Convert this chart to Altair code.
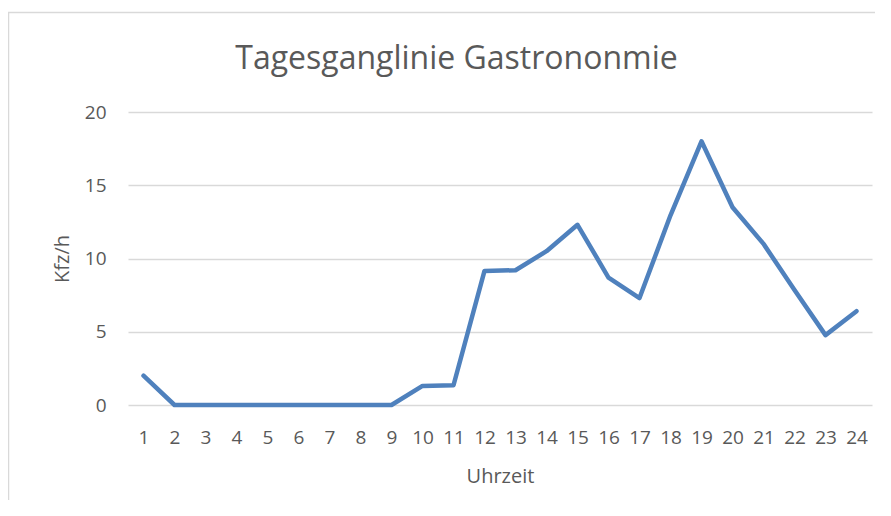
import altair as alt
import pandas as pd

hours = [str(h) for h in range(1, 25)]
kfz = [2.0, 0, 0, 0, 0, 0, 0, 0, 0, 1.3, 1.35, 9.15, 9.2, 10.5, 12.3, 8.7,
       7.3, 12.95, 18.0, 13.5, 11.0, 7.85, 4.77, 6.4]

title_text = "Tagesganglinie Gastrononmie"
x_title = "Uhrzeit"
y_title = "Kfz/h"

df = pd.DataFrame({"Uhrzeit": hours, "Kfz": kfz})

FONT = "Open Sans"
GREY = "#595959"

line = alt.Chart(df).mark_line(color="#4F81BD", strokeWidth=4.5, strokeJoin="round", strokeCap="round").encode(
    x=alt.X("Uhrzeit:O", sort=hours, title=x_title,
            scale=alt.Scale(type="point", padding=0.5),
            axis=alt.Axis(labelAngle=0, labelFont=FONT, labelFontSize=19, labelColor=GREY,
                          titleFont=FONT, titleFontSize=20, titleColor=GREY, titleFontWeight="normal",
                          ticks=False, domain=False, labelPadding=23, titlePadding=19, grid=False)),
    y=alt.Y("Kfz:Q", title=y_title,
            scale=alt.Scale(domain=[0, 20]),
            axis=alt.Axis(values=[0, 5, 10, 15, 20], labelFont=FONT, labelFontSize=19, labelColor=GREY,
                          titleFont=FONT, titleFontSize=20, titleColor=GREY, titleFontWeight="normal",
                          ticks=False, domain=False, labelPadding=22, titlePadding=12,
                          gridColor="#D9D9D9", gridWidth=1.5)),
)

border = alt.Chart(pd.DataFrame({"a": [0]})).mark_rect(
    fill=None, stroke="#D9D9D9", strokeWidth=1.5).encode(
    x=alt.value(-119.5), y=alt.value(-99.5), x2=alt.value(900), y2=alt.value(600))

title = alt.Chart(pd.DataFrame({"t": [title_text]})).mark_text(
    font=FONT, fontSize=32, color=GREY, align="center", baseline="alphabetic").encode(
    text="t:N", x=alt.value(328.5), y=alt.value(-43))

chart = alt.layer(border, line, title).properties(
    width=744, height=293,
    padding={"left": 120, "top": 104, "right": 3, "bottom": 95},
    autosize=alt.AutoSizeParams(type="none"),
).configure_view(stroke=None)

chart.save("out.html", embed_options={"renderer": "svg", "actions": False})
